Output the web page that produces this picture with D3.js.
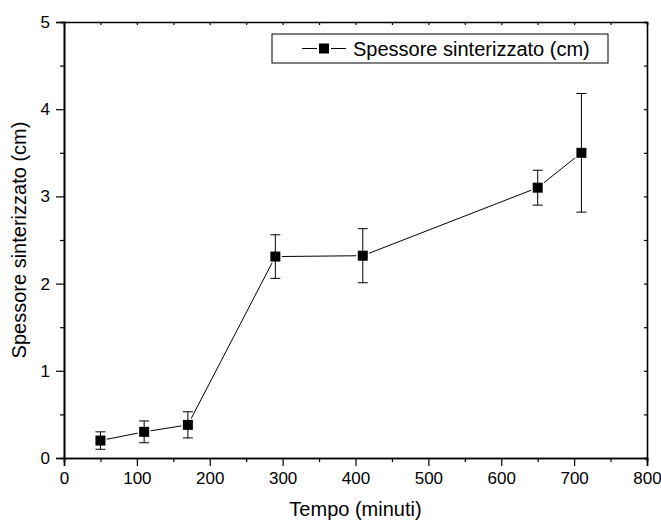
<!DOCTYPE html>
<html>
<head>
<meta charset="utf-8">
<script src="https://cdn.jsdelivr.net/npm/d3@7"></script>
<style>
  html, body { margin: 0; padding: 0; background: #fff; }
  svg { display: block; font-family: "Liberation Sans", Arial, sans-serif; }
</style>
</head>
<body>
<svg id="chart" width="661" height="521"></svg>
<script>
// tempo (minuti), spessore (cm) e relativo errore
var tempo = [50, 110, 170, 290, 410, 650, 710];
var spessore = [0.20, 0.30, 0.38, 2.31, 2.32, 3.10, 3.50];
var errore = [0.10, 0.125, 0.15, 0.25, 0.31, 0.20, 0.68];
var xTicks = [0, 100, 200, 300, 400, 500, 600, 700, 800];
var yTicks = [0, 1, 2, 3, 4, 5];
var serieLabel = 'Spessore sinterizzato (cm)';

var svg = d3.select('#chart');
var m = { l: 64, r: 14, t: 22, b: 63 };
var W = 661, H = 521;
var MK = 5; // metà lato del marcatore

var x = d3.scaleLinear().domain([0, 800]).range([m.l, W - m.r]);
var y = d3.scaleLinear().domain([0, 5]).range([H - m.b, m.t]);

var data = tempo.map(function(t, i) { return { t: t, s: spessore[i], e: errore[i] }; });

var minorX = d3.range(50, 800, 100);
var minorY = d3.range(0.5, 5, 1);

// assi principali
var gx = svg.append('g').attr('transform', 'translate(0,' + y(0) + ')')
  .call(d3.axisBottom(x).tickValues(xTicks).tickSize(8).tickPadding(6));
gx.append('g').call(d3.axisBottom(x).tickValues(minorX).tickSize(4).tickFormat(''));

var gy = svg.append('g').attr('transform', 'translate(' + x(0) + ',0)')
  .call(d3.axisLeft(y).tickValues(yTicks).tickSize(8).tickPadding(6).tickFormat(d3.format('d')));
gy.append('g').call(d3.axisLeft(y).tickValues(minorY).tickSize(4).tickFormat(''));

// assi speculari (tick verso l'interno)
var gt = svg.append('g').attr('transform', 'translate(0,' + y(5) + ')')
  .call(d3.axisBottom(x).tickValues(xTicks.concat(minorX)).tickSize(3).tickFormat(''));
var gr = svg.append('g').attr('transform', 'translate(' + x(800) + ',0)')
  .call(d3.axisLeft(y).tickValues(yTicks.concat(minorY)).tickSize(3).tickFormat(''));

[gx, gy, gt, gr].forEach(function(g) {
  g.selectAll('.domain').attr('stroke', '#000').attr('stroke-width', 1.6);
  g.selectAll('.tick line').attr('stroke', '#000').attr('stroke-width', 1.2);
  g.selectAll('.tick text').attr('font-size', 17).attr('fill', '#000')
    .attr('font-family', '"Liberation Sans", Arial, sans-serif');
});

// barre d'errore
var eb = svg.append('g').attr('stroke', '#000').attr('stroke-width', 1);
data.forEach(function(d) {
  var cx = x(d.t);
  eb.append('line').attr('x1', cx).attr('x2', cx).attr('y1', y(d.s + d.e)).attr('y2', y(d.s - d.e));
  eb.append('line').attr('x1', cx - 5).attr('x2', cx + 5).attr('y1', y(d.s + d.e)).attr('y2', y(d.s + d.e));
  eb.append('line').attr('x1', cx - 5).attr('x2', cx + 5).attr('y1', y(d.s - d.e)).attr('y2', y(d.s - d.e));
});

// linea della serie: segmenti interrotti poco prima di ogni marcatore
var segs = d3.pairs(data).map(function(p) {
  var x1 = x(p[0].t), y1 = y(p[0].s), x2 = x(p[1].t), y2 = y(p[1].s);
  var dx = x2 - x1, dy = y2 - y1, len = Math.sqrt(dx * dx + dy * dy);
  var ux = dx / len, uy = dy / len;
  var cut = MK / Math.max(Math.abs(ux), Math.abs(uy)) + 1.5;
  return { x1: x1 + ux * cut, y1: y1 + uy * cut, x2: x2 - ux * cut, y2: y2 - uy * cut };
});
svg.append('g').selectAll('line').data(segs).enter().append('line')
  .attr('x1', function(d) { return d.x1; }).attr('y1', function(d) { return d.y1; })
  .attr('x2', function(d) { return d.x2; }).attr('y2', function(d) { return d.y2; })
  .attr('stroke', '#000').attr('stroke-width', 1);

// marcatori quadrati
svg.append('g').selectAll('rect').data(data).enter().append('rect')
  .attr('x', function(d) { return x(d.t) - MK; })
  .attr('y', function(d) { return y(d.s) - MK; })
  .attr('width', MK * 2).attr('height', MK * 2).attr('fill', '#000');

// legenda
var lg = svg.append('g').attr('transform', 'translate(272,34)');
lg.append('rect').attr('width', 336).attr('height', 29)
  .attr('fill', '#fff').attr('stroke', '#000').attr('stroke-width', 1);
lg.append('line').attr('x1', 30).attr('x2', 45).attr('y1', 14.5).attr('y2', 14.5)
  .attr('stroke', '#000').attr('stroke-width', 1);
lg.append('line').attr('x1', 59).attr('x2', 74).attr('y1', 14.5).attr('y2', 14.5)
  .attr('stroke', '#000').attr('stroke-width', 1);
lg.append('rect').attr('x', 47).attr('y', 9.5).attr('width', 10).attr('height', 10).attr('fill', '#000');
lg.append('text').attr('x', 81).attr('y', 21.5).attr('font-size', 20).attr('fill', '#000').text(serieLabel);

// titoli degli assi
svg.append('text').attr('x', (x(0) + x(800)) / 2).attr('y', 516)
  .attr('text-anchor', 'middle').attr('font-size', 20).text('Tempo (minuti)');
svg.append('text').attr('transform', 'translate(26,' + y(2.5) + ') rotate(-90)')
  .attr('text-anchor', 'middle').attr('font-size', 20).text('Spessore sinterizzato (cm)');
</script>
</body>
</html>
